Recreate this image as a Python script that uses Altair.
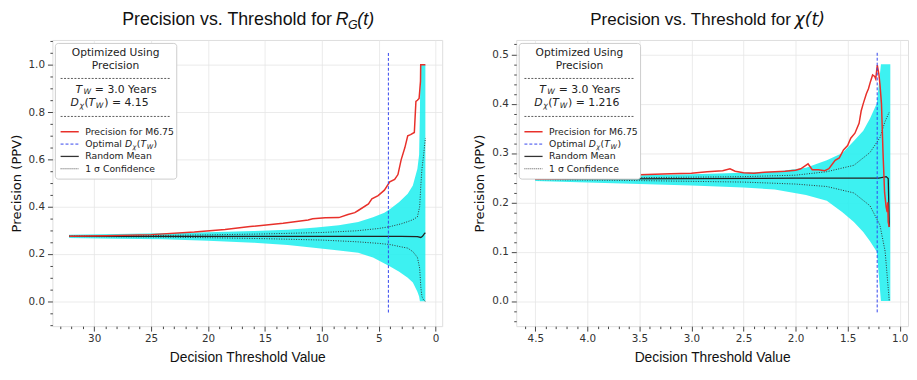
import altair as alt
import pandas as pd

# ---------------- data: left panel (R_G(t)) ----------------
L_RED_X = [32.2, 29, 25, 21.2, 18.5, 16.3, 13.4, 11.2, 10.8, 9.7, 8.5, 7.7, 7.1, 6.8, 5.9, 5.6,
           5.05, 4.5, 4.03, 3.6, 3.31, 3.03, 2.7, 2.45, 2.2, 1.87, 1.8, 1.73, 1.6, 1.45, 1.38, 1.33, 1.31, 0.9]
L_RED_Y = [0.275, 0.277, 0.282, 0.293, 0.304, 0.316, 0.330, 0.344, 0.349, 0.353, 0.354, 0.367, 0.375, 0.384,
           0.412, 0.433, 0.447, 0.470, 0.505, 0.515, 0.536, 0.598, 0.650, 0.700, 0.705, 0.714, 0.780, 0.845,
           0.850, 0.858, 0.900, 0.930, 1.000, 1.000]

L_MEAN_X = [32.2, 20, 10, 5, 3, 1.6, 1.3, 1.15, 1.0, 0.9]
L_MEAN_Y = [0.275, 0.275, 0.275, 0.275, 0.275, 0.274, 0.270, 0.275, 0.285, 0.290]

L_CONF_X = [32.2, 25, 20, 15, 10, 7, 5, 4, 3, 2.45, 2.0, 1.6, 1.4, 1.3, 1.2, 1.05, 0.9]
L_CONF_HI = [0.276, 0.278, 0.281, 0.285, 0.291, 0.298, 0.308, 0.316, 0.328, 0.337, 0.345, 0.357, 0.400,
             0.490, 0.560, 0.620, 0.690]
L_CONF_LO = [0.274, 0.272, 0.269, 0.265, 0.259, 0.252, 0.245, 0.240, 0.230, 0.225, 0.210, 0.186, 0.140,
             0.060, 0.020, 0.005, 0.000]

L_BAND_X = [32.2, 28, 24, 20, 16, 13, 10.5, 8.5, 6.8, 5.5, 4.5, 4.0, 3.2, 2.45, 2.0, 1.6, 1.45, 1.38, 1.33, 0.9]
L_BAND_HI = [0.282, 0.285, 0.288, 0.292, 0.297, 0.303, 0.312, 0.322, 0.335, 0.355, 0.375, 0.390, 0.420,
             0.455, 0.490, 0.560, 0.620, 0.800, 1.000, 1.000]
L_BAND_LO = [0.268, 0.265, 0.262, 0.256, 0.248, 0.238, 0.225, 0.215, 0.205, 0.185, 0.160, 0.147, 0.125,
             0.100, 0.080, 0.040, 0.020, 0.000, 0.000, 0.000]

L_OPT = 4.15
L_OPT_SPAN = [1.05, -0.05]

# ---------------- data: right panel (chi(t)) ----------------
R_RED_X = [4.5, 4.2, 4.05, 3.8, 3.5, 3.2, 3.0, 2.85, 2.7, 2.63, 2.58, 2.5, 2.4, 2.3, 2.2, 2.1, 2.0, 1.95,
           1.88, 1.84, 1.78, 1.72, 1.68, 1.62, 1.58, 1.54, 1.50, 1.47, 1.43, 1.41, 1.39, 1.37, 1.35, 1.32,
           1.30, 1.28, 1.26, 1.24, 1.23, 1.215, 1.20, 1.19, 1.175, 1.16, 1.145, 1.13, 1.12, 1.115, 1.11, 1.10]
R_RED_Y = [0.247, 0.248, 0.251, 0.253, 0.256, 0.258, 0.259, 0.262, 0.264, 0.268, 0.263, 0.260, 0.259,
           0.261, 0.262, 0.263, 0.265, 0.268, 0.278, 0.266, 0.266, 0.264, 0.268, 0.285, 0.290, 0.306, 0.315,
           0.330, 0.340, 0.350, 0.360, 0.385, 0.400, 0.420, 0.430, 0.445, 0.458, 0.455, 0.450, 0.478, 0.460,
           0.440, 0.400, 0.300, 0.220, 0.190, 0.180, 0.200, 0.160, 0.150]

R_MEAN_X = [4.5, 3.0, 2.0, 1.5, 1.2, 1.13, 1.11, 1.10]
R_MEAN_Y = [0.247, 0.248, 0.249, 0.249, 0.249, 0.252, 0.248, 0.150]

R_CONF_X = [4.5, 3.5, 2.5, 2.0, 1.7, 1.44, 1.285, 1.19, 1.14, 1.10]
R_CONF_HI = [0.248, 0.250, 0.252, 0.255, 0.262, 0.275, 0.301, 0.331, 0.364, 0.383]
R_CONF_LO = [0.246, 0.244, 0.241, 0.237, 0.232, 0.219, 0.193, 0.154, 0.101, 0.000]

R_BAND_X = [4.5, 4.0, 3.5, 3.0, 2.5, 2.2, 1.9, 1.7, 1.55, 1.44, 1.35, 1.285, 1.22, 1.18, 1.09]
R_BAND_HI = [0.251, 0.253, 0.255, 0.257, 0.260, 0.262, 0.270, 0.285, 0.300, 0.324, 0.345, 0.370, 0.400,
             0.480, 0.480]
R_BAND_LO = [0.243, 0.240, 0.237, 0.234, 0.230, 0.226, 0.215, 0.203, 0.180, 0.160, 0.140, 0.121, 0.100,
             0.000, 0.000]

R_OPT = 1.216
R_OPT_SPAN = [0.503, -0.024]

# ---------------- ticks ----------------
L_X_TICKS = list(range(0, 34))                                  # major every 5
L_Y_TICKS = [round(i * 0.05, 2) for i in range(-2, 23)]         # major every 0.2
R_X_TICKS = [round(1.0 + i * 0.1, 1) for i in range(0, 37)]     # major every 0.5
R_Y_TICKS = [round(i * 0.02, 2) for i in range(-2, 27)]         # major every 0.1

one = pd.DataFrame({"k": [0]})


def axis(values, step, fmt, title, font, size, pad, lpad, orient):
    test = f"abs(datum.value/{step} - round(datum.value/{step})) < 1e-6"
    return alt.Axis(
        values=values, format=fmt, title=title,
        labelExpr=f"{test} ? datum.label : ''",
        tickSize={"condition": {"test": test, "value": 5}, "value": 2.5},
        gridOpacity={"condition": {"test": test, "value": 1}, "value": 0},
        titleFont=font, titleFontSize=size, titlePadding=pad, titleFontWeight="normal",
        titleColor="#111111", labelFont="DejaVu Sans", labelFontSize=10.5, labelPadding=lpad,
        labelColor="#333333", labelFlush=False, labelOverlap=False, orient=orient, domain=False,
        tickColor="#444444", gridColor="#e6e6e6", gridWidth=0.8,
    )


def txt(s, x, y, size, font="DejaVu Sans", italic=False, align="left", color="#222"):
    kw = dict(text=s, align=align, baseline="middle", fontSize=size, font=font, color=color)
    if italic:
        kw["fontStyle"] = "italic"
    return alt.Chart(one).mark_text(**kw).encode(x=alt.value(x), y=alt.value(y))


def hrule(x1, x2, y, color, dash=None, width=1.0):
    kw = dict(color=color, strokeWidth=width)
    if dash:
        kw["strokeDash"] = dash
    return alt.Chart(one).mark_rule(**kw).encode(x=alt.value(x1), x2=alt.value(x2), y=alt.value(y))


def panel(red_x, red_y, mean_x, mean_y, cx, chi, clo, bx, bhi, blo, opt, span,
          xdom, ydom, xticks, xstep, xfmt, yticks, ystep, title_parts, dval, W, H):
    X = alt.X("x:Q", scale=alt.Scale(domain=xdom, reverse=True, nice=False, zero=False),
              axis=axis(xticks, xstep, xfmt, "Decision Threshold Value", "Liberation Sans", 14, 6.5, 3, "bottom"))
    Y = alt.Y("y:Q", scale=alt.Scale(domain=ydom, nice=False, zero=False),
              axis=axis(yticks, ystep, ".1f", "Precision (PPV)", "DejaVu Sans", 13.3, 5, 3, "left"))

    band = alt.Chart(pd.DataFrame({"x": bx, "y": bhi, "y2": blo})).mark_area(
        color="#22efef", opacity=0.88, clip=True).encode(x=X, y=Y, y2="y2:Q")
    hi = alt.Chart(pd.DataFrame({"x": cx, "y": chi})).mark_line(
        color="#333333", strokeDash=[1, 1.5], strokeWidth=1, clip=True).encode(x=X, y=Y)
    lo = alt.Chart(pd.DataFrame({"x": cx, "y": clo})).mark_line(
        color="#333333", strokeDash=[1, 1.5], strokeWidth=1, clip=True).encode(x=X, y=Y)
    mean = alt.Chart(pd.DataFrame({"x": mean_x, "y": mean_y})).mark_line(
        color="#222222", strokeWidth=1.3, clip=True).encode(x=X, y=Y)
    red = alt.Chart(pd.DataFrame({"x": red_x, "y": red_y})).mark_line(
        color="#e8302a", strokeWidth=1.5, clip=True).encode(x=X, y=Y)
    vline = alt.Chart(pd.DataFrame({"x": [opt], "y": [span[0]], "y2": [span[1]]})).mark_rule(
        color="#3344ee", strokeDash=[3, 2], strokeWidth=1).encode(x=X, y=Y, y2="y2:Q")

    box = alt.Chart(one).mark_rect(fill="white", stroke="#cccccc", strokeWidth=1, cornerRadius=3).encode(
        x=alt.value(3), x2=alt.value(126), y=alt.value(3.5), y2=alt.value(141))

    ann = [
        txt("Optimized Using", 64, 13.5, 10.8, align="center"),
        txt("Precision", 64, 26, 10.8, align="center"),
        hrule(8.3, 120, 39, "#333", [2, 1.5], 0.8),
        txt("T", 23.3, 50.5, 11, italic=True),
        txt("W", 31.5, 53, 7.8, italic=True),
        txt("= 3.0 Years", 43, 50.5, 11),
        txt("D", 18.3, 63.5, 11, italic=True),
        txt("χ", 27.5, 66.5, 7.8, italic=True),
        txt("(", 32.5, 63.5, 11),
        txt("T", 36.5, 63.5, 11, italic=True),
        txt("W", 44, 66.5, 7.8, italic=True),
        txt(") = " + dval, 52.5, 63.5, 11),
        hrule(8.3, 120, 77.5, "#333", [2, 1.5], 0.8),
        hrule(8.3, 26.7, 93, "#e8302a", None, 1.5),
        txt("Precision for M6.75", 33.3, 93, 9.4),
        hrule(8.3, 26.7, 105.5, "#3344ee", [3, 2], 1),
        txt("Optimal", 33.3, 105.5, 9.4),
        txt("D", 73.5, 105.5, 9.4, italic=True),
        txt("χ", 81.2, 108, 6.6, italic=True),
        txt("(", 85.5, 105.5, 9.4),
        txt("T", 89.2, 105.5, 9.4, italic=True),
        txt("W", 95.6, 108, 6.6, italic=True),
        txt(")", 102.5, 105.5, 9.4),
        hrule(8.3, 26.7, 118, "#333", None, 1.3),
        txt("Random Mean", 33.3, 118, 9.4),
        hrule(8.3, 26.7, 130.5, "#555", [1, 1], 1),
        txt("1 σ Confidence", 33.3, 130.5, 9.4),
    ]
    titles = [txt(s, x, y, sz, font=f, italic=it, color="#111") for (s, x, y, sz, f, it) in title_parts]

    return alt.layer(band, hi, lo, mean, red, vline, box, *ann, *titles).properties(width=W, height=H)


left = panel(L_RED_X, L_RED_Y, L_MEAN_X, L_MEAN_Y, L_CONF_X, L_CONF_HI, L_CONF_LO,
             L_BAND_X, L_BAND_HI, L_BAND_LO, L_OPT, L_OPT_SPAN,
             [-0.58, 33.67], [-0.105, 1.105], L_X_TICKS, 5, "d", L_Y_TICKS, 0.2,
             [("Precision vs. Threshold for", 70.7, -20.5, 18, "Liberation Sans", False),
              ("R", 287, -20.5, 18, "Liberation Sans", True),
              ("G", 299.5, -15.5, 12.5, "Liberation Sans", True),
              ("(t)", 309, -20.5, 18, "Liberation Sans", True)],
             "4.15", 395, 290)

right = panel(R_RED_X, R_RED_Y, R_MEAN_X, R_MEAN_Y, R_CONF_X, R_CONF_HI, R_CONF_LO,
              R_BAND_X, R_BAND_HI, R_BAND_LO, R_OPT, R_OPT_SPAN,
              [0.92, 4.683], [-0.051, 0.529], R_X_TICKS, 0.5, ".1f", R_Y_TICKS, 0.1,
              [("Precision vs. Threshold for", 75, -20.5, 17.2, "Liberation Sans", False),
               ("χ(t)", 282, -20.5, 17.5, "DejaVu Sans", True)],
              "1.216", 397, 290)

chart = alt.hconcat(left, right, spacing=29).properties(padding=0).configure_view(
    stroke="#444444", strokeWidth=1
).configure(background="white")

chart.save("out.html", embed_options={"renderer": "svg", "actions": False})
